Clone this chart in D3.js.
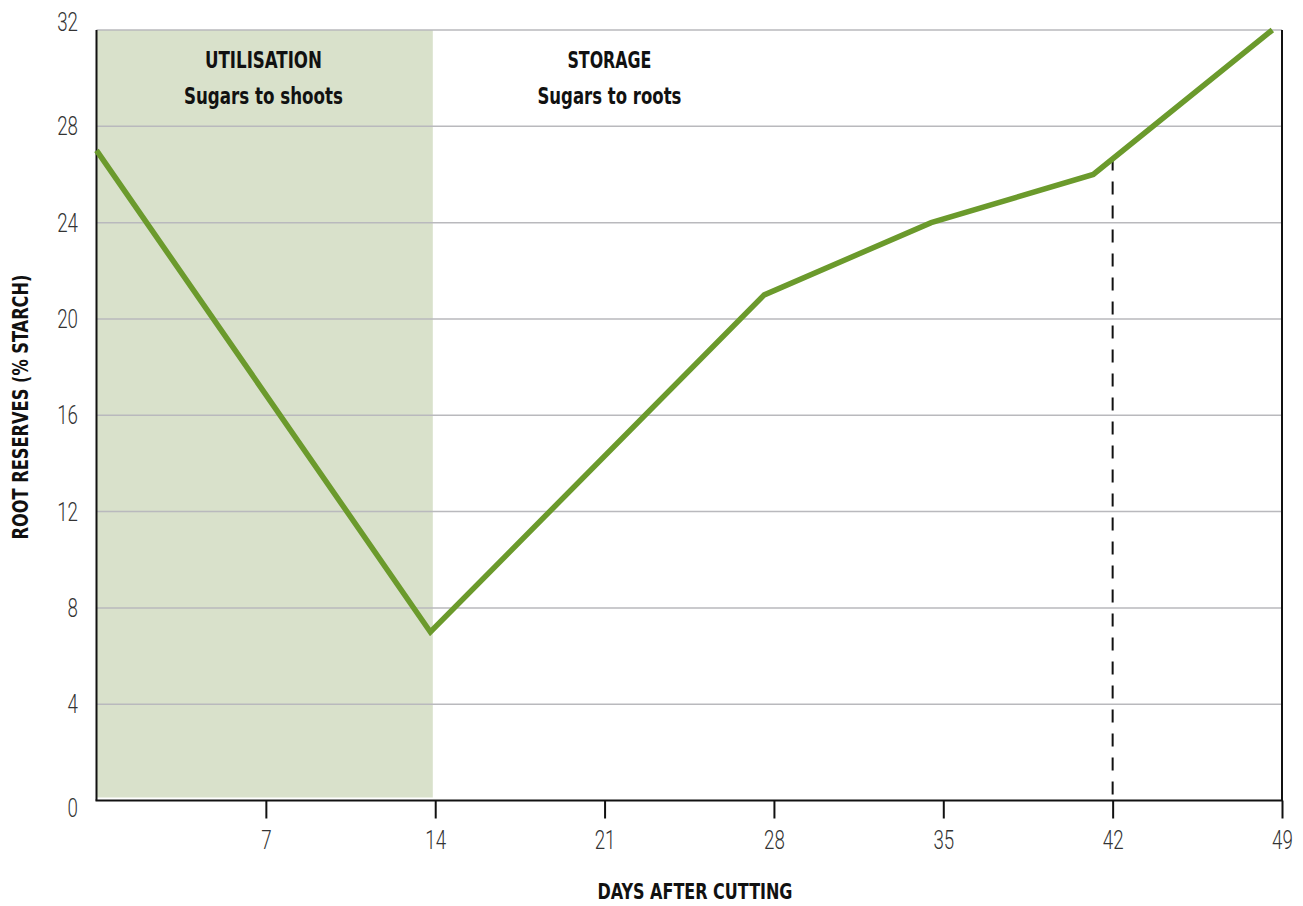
<!DOCTYPE html>
<html><head><meta charset="utf-8">
<script src="https://cdn.jsdelivr.net/npm/d3@7"></script>
<style>
html,body{margin:0;padding:0;background:#fff;}
svg{display:block;}
text{font-family:"DejaVu Sans Condensed","Liberation Sans Narrow",sans-serif;}
text.num{font-family:Roboto,"DejaVu Sans Condensed",sans-serif;font-weight:300;}
</style></head>
<body>
<svg id="chart" width="1303" height="906"></svg>
<script>
// Data
const days = [0, 13.8, 27.6, 34.5, 41.2, 48.6];
const starch = [27, 7, 21, 24, 26, 32];
const xTicks = [7, 14, 21, 28, 35, 42, 49];
const yTicks = [0, 4, 8, 12, 16, 20, 24, 28, 32];
const phases = [
  {from: 0, to: 13.9, title: "UTILISATION", sub: "Sugars to shoots", center: 6.9, wT: 117, wS: 159},
  {from: 13.9, to: 49, title: "STORAGE", sub: "Sugars to roots", center: 21.2, wT: 84, wS: 144}
];
const markerDay = 42;
const markerTop = 26.7;

(function () {
const svg = d3.select("#chart");
const mL = 96.5, mR = 1282, mT = 30, mB = 800.5;
const x = d3.scaleLinear().domain([0, 49]).range([mL, mR]);
const y = d3.scaleLinear().domain([0, 32]).range([mB, mT]);
const digitW = 10.4;

// shaded utilisation band
svg.append("rect")
  .attr("x", x(phases[0].from)).attr("y", y(32))
  .attr("width", x(phases[0].to) - x(phases[0].from))
  .attr("height", y(0) - y(32) - 3)
  .attr("fill", "#d9e1cb");

// gridlines
svg.append("g").selectAll("line").data(yTicks.filter(d => d > 0)).join("line")
  .attr("x1", mL).attr("x2", mR)
  .attr("y1", d => y(d)).attr("y2", d => y(d))
  .attr("stroke", "#b9b9bd").attr("stroke-width", 1.5);

// y tick labels
svg.append("g").selectAll("text").data(yTicks).join("text")
  .attr("class", "num")
  .attr("x", 78).attr("y", d => y(d) + (d === 0 ? 7 : d === 32 ? -8 : 0))
  .attr("dy", "0.35em").attr("text-anchor", "end")
  .attr("font-size", 26).attr("fill", "#333")
  .attr("textLength", d => String(d).length * digitW).attr("lengthAdjust", "spacingAndGlyphs")
  .text(d => d);

// x axis
const xAxis = d3.axisBottom(x).tickValues(xTicks).tickSize(18).tickPadding(12).tickFormat(d3.format("d"));
const gx = svg.append("g").attr("transform", `translate(0,${mB})`).call(xAxis);
gx.select(".domain").remove();
gx.selectAll(".tick line").attr("stroke", "#111").attr("stroke-width", 2);
gx.selectAll(".tick text").attr("class", "num").attr("font-size", 26).attr("fill", "#333")
  .attr("font-family", null)
  .attr("textLength", d => String(d).length * digitW).attr("lengthAdjust", "spacingAndGlyphs");

// axis frame lines
svg.append("line").attr("x1", mL).attr("x2", mL).attr("y1", mT).attr("y2", mB)
  .attr("stroke", "#111").attr("stroke-width", 2);
svg.append("line").attr("x1", mR).attr("x2", mR).attr("y1", mT).attr("y2", mB)
  .attr("stroke", "#111").attr("stroke-width", 2);
svg.append("line").attr("x1", mL - 1).attr("x2", mR + 1).attr("y1", mB).attr("y2", mB)
  .attr("stroke", "#111").attr("stroke-width", 2);

// dashed marker
svg.append("line").attr("x1", x(markerDay)).attr("x2", x(markerDay))
  .attr("y1", y(markerTop)).attr("y2", mB)
  .attr("stroke", "#111").attr("stroke-width", 2).attr("stroke-dasharray", "13,11");

// data line
const pts = days.map((d, i) => [d, starch[i]]);
svg.append("path").datum(pts)
  .attr("d", d3.line().x(d => x(d[0])).y(d => y(d[1])))
  .attr("fill", "none").attr("stroke", "#6b9a2c").attr("stroke-width", 5.5)
  .attr("stroke-linejoin", "miter");

// phase labels
phases.forEach(p => {
  svg.append("text").attr("x", x(p.center)).attr("y", 68).attr("text-anchor", "middle")
    .attr("font-size", 23.5).attr("font-weight", "bold").attr("fill", "#111")
    .attr("textLength", p.wT).attr("lengthAdjust", "spacingAndGlyphs").text(p.title);
  svg.append("text").attr("x", x(p.center)).attr("y", 104).attr("text-anchor", "middle")
    .attr("font-size", 23.5).attr("font-weight", "bold").attr("fill", "#111")
    .attr("textLength", p.wS).attr("lengthAdjust", "spacingAndGlyphs").text(p.sub);
});

// axis titles
svg.append("text").attr("x", 695).attr("y", 899).attr("text-anchor", "middle")
  .attr("font-size", 21).attr("font-weight", "bold").attr("fill", "#111")
  .attr("textLength", 195).attr("lengthAdjust", "spacingAndGlyphs").text("DAYS AFTER CUTTING");
svg.append("text").attr("transform", "translate(28,407) rotate(-90)").attr("text-anchor", "middle")
  .attr("font-size", 22).attr("font-weight", "bold").attr("fill", "#111")
  .attr("textLength", 265).attr("lengthAdjust", "spacingAndGlyphs").text("ROOT RESERVES (% STARCH)");
})();
</script>
</body></html>
